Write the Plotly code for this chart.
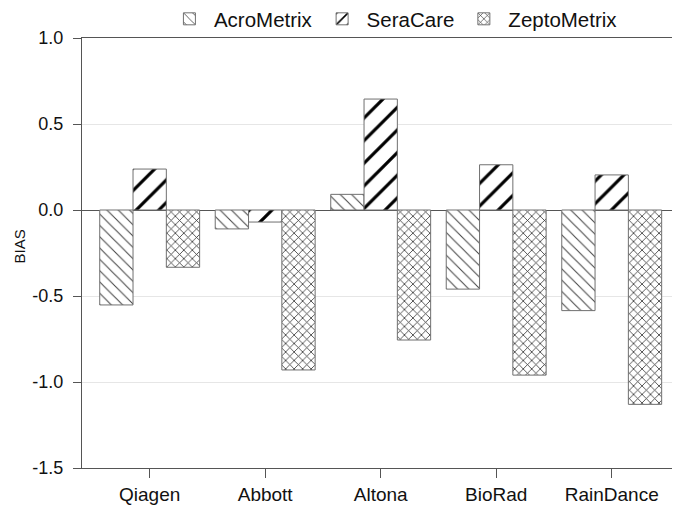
import plotly.graph_objects as go

categories = ["Qiagen", "Abbott", "Altona", "BioRad", "RainDance"]
acrometrix = [-0.552, -0.11, 0.091, -0.46, -0.585]
seracare = [0.238, -0.07, 0.645, 0.263, 0.204]
zeptometrix = [-0.333, -0.93, -0.756, -0.96, -1.13]
y_ticks = [1.0, 0.5, 0.0, -0.5, -1.0, -1.5]

FONT = "Liberation Sans, Arial, sans-serif"
x_idx = list(range(len(categories)))

# page body has an 8px margin; figure sized/margined so the plot frame
# lands at x 82..675, y 38..468 in the 680x511 window
W, H = 672, 503
L, R, T, B = 74, 5, 30, 43
PW = W - L - R
PH = H - T - B

fig = go.Figure()
fig.add_trace(go.Bar(
    name="AcroMetrix", x=x_idx, y=acrometrix,
    marker=dict(color="white", line=dict(color="#707070", width=1),
                pattern=dict(shape="\\", fgcolor="#444444", bgcolor="white",
                             size=8, solidity=0.13, fgopacity=1, fillmode="replace")),
))
fig.add_trace(go.Bar(
    name="SeraCare", x=x_idx, y=seracare,
    marker=dict(color="white", line=dict(color="#707070", width=1),
                pattern=dict(shape="/", fgcolor="#000000", bgcolor="white",
                             size=16, solidity=0.2, fgopacity=1, fillmode="replace")),
))
fig.add_trace(go.Bar(
    name="ZeptoMetrix", x=x_idx, y=zeptometrix,
    marker=dict(color="white", line=dict(color="#707070", width=1),
                pattern=dict(shape="x", fgcolor="#2a2a2a", bgcolor="white",
                             size=6, solidity=0.24, fgopacity=1, fillmode="replace")),
))

fig.add_annotation(
    text="BIAS", textangle=-90, showarrow=False,
    xref="paper", yref="paper", x=(0 - L) / PW, y=(460 - 239) / PH,
    xanchor="left", yanchor="middle",
    font=dict(size=15, family=FONT, color="#111111"),
)

fig.update_layout(
    width=W, height=H,
    margin=dict(l=L, r=R, t=T, b=B, autoexpand=False),
    paper_bgcolor="white", plot_bgcolor="white",
    barmode="group", bargap=0.135, bargroupgap=0,
    font=dict(family=FONT, color="#111111"),
    showlegend=True,
    legend=dict(orientation="h", xref="paper", x=0.526, xanchor="center",
                yref="paper", y=1 + (T + 9) / PH, yanchor="top",
                font=dict(size=20.5, family=FONT), bgcolor="rgba(0,0,0,0)",
                itemwidth=39, traceorder="normal"),
    xaxis=dict(
        tickmode="array", tickvals=x_idx, ticktext=categories,
        range=[-0.586, 4.548], showgrid=False, zeroline=False, automargin=False,
        showline=True, linecolor="#555555", linewidth=1, mirror=True,
        ticks="outside", ticklen=9, tickcolor="#555555",
        tickfont=dict(size=19, family=FONT, color="#111111"),
    ),
    yaxis=dict(
        range=[-1.5, 1.0], tickvals=y_ticks, ticktext=[f"{v:.1f}" for v in y_ticks],
        showgrid=True, gridcolor="#e6e6e6", gridwidth=1, automargin=False,
        zeroline=True, zerolinecolor="#555555", zerolinewidth=1,
        showline=True, linecolor="#555555", linewidth=1, mirror=True,
        ticks="outside", ticklen=8, tickcolor="#555555", ticklabelstandoff=6,
        tickfont=dict(size=18, family=FONT, color="#111111"),
    ),
)

fig.write_html("out.html")
